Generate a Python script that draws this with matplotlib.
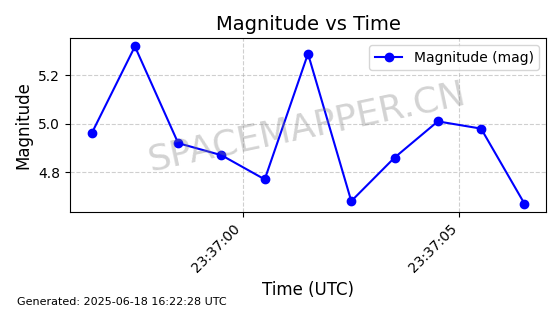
import matplotlib
matplotlib.use("Agg")
import matplotlib.pyplot as plt
import matplotlib.dates as mdates
import pandas as pd

times = ["2025-06-17 23:36:56.5", "2025-06-17 23:36:57.5", "2025-06-17 23:36:58.5",
         "2025-06-17 23:36:59.5", "2025-06-17 23:37:00.5", "2025-06-17 23:37:01.5",
         "2025-06-17 23:37:02.5", "2025-06-17 23:37:03.5", "2025-06-17 23:37:04.5",
         "2025-06-17 23:37:05.5", "2025-06-17 23:37:06.5"]
magnitudes = [4.96, 5.32, 4.92, 4.87, 4.77, 5.29, 4.68, 4.86, 5.01, 4.98, 4.67]
tick_times = ["2025-06-17 23:37:00", "2025-06-17 23:37:05"]

t = pd.to_datetime(times)
ticks = pd.to_datetime(tick_times)

fig = plt.figure(figsize=(5.6, 3.14), dpi=100)
ax = fig.add_axes([70/560, 1-212/314, 476/560, 174/314])
ax.plot(t, magnitudes, '-o', color='blue', markersize=6, linewidth=1.5, label='Magnitude (mag)')
ax.set_xticks(ticks)
ax.xaxis.set_major_formatter(mdates.DateFormatter('%H:%M:%S'))
plt.setp(ax.get_xticklabels(), rotation=45, ha='right')
ax.set_yticks([4.8, 5.0, 5.2])
ax.set_ylim(4.635, 5.355)
ax.grid(True, linestyle='--', alpha=0.6)
ax.set_title('Magnitude vs Time', fontsize=14)
ax.set_xlabel('Time (UTC)', fontsize=12)
ax.set_ylabel('Magnitude', fontsize=12)
ax.legend(loc='upper right')
fig.text(0.548, 0.595, 'SPACEMAPPER.CN', fontsize=26, color='gray', alpha=0.35,
         ha='center', va='center', rotation=12)
fig.text(0.03, 0.03, 'Generated: 2025-06-18 16:22:28 UTC', fontsize=8)
fig.savefig('out.png', dpi=100)
